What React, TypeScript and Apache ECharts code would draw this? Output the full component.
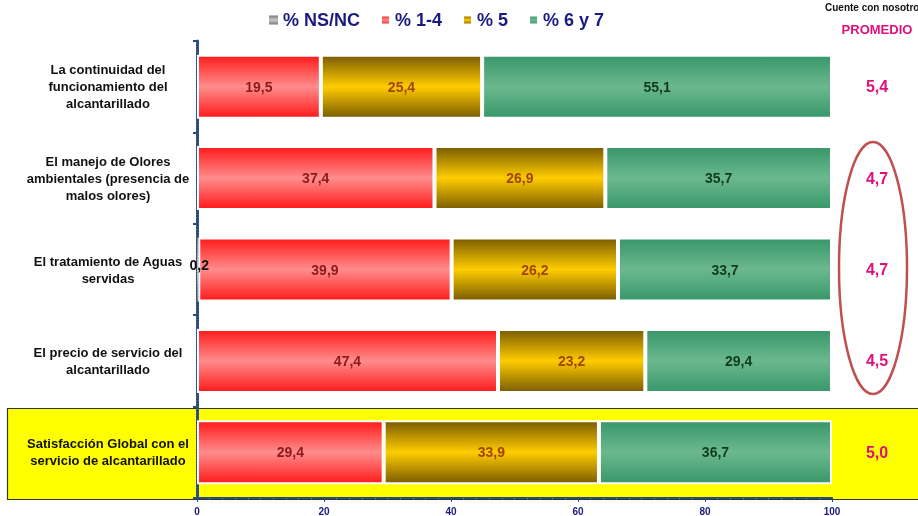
import React, { useEffect, useRef } from "react";
import * as echarts from "echarts";

const categories = [
  "La continuidad del\nfuncionamiento del\nalcantarillado",
  "El manejo de Olores\nambientales (presencia de\nmalos olores)",
  "El tratamiento de Aguas\nservidas",
  "El precio de servicio del\nalcantarillado",
  "Satisfacción Global con el\nservicio de alcantarillado",
];
const nsnc = [0, 0, 0.2, 0, 0];
const pct14 = [19.5, 37.4, 39.9, 47.4, 29.4];
const pct5 = [25.4, 26.9, 26.2, 23.2, 33.9];
const pct67 = [55.1, 35.7, 33.7, 29.4, 36.7];
const promedio = ["5,4", "4,7", "4,7", "4,5", "5,0"];
const seriesNames = ["% NS/NC", "% 1-4", "% 5", "% 6 y 7"];

const FONT = "Liberation Sans, Arial, sans-serif";

const grad = (edge: string, mid: string) =>
  new echarts.graphic.LinearGradient(0, 0, 0, 1, [
    { offset: 0, color: edge },
    { offset: 0.5, color: mid },
    { offset: 1, color: edge },
  ]);

const fmt = (v: number) => v.toFixed(1).replace(".", ",");

export default function App() {
  const ref = useRef<HTMLDivElement>(null);
  useEffect(() => {
    if (!ref.current) return;
    const chart = echarts.init(ref.current, null, { renderer: "svg" });
    const labelBase = {
      show: true,
      position: "inside" as const,
      fontFamily: FONT,
      fontWeight: "bold" as const,
      fontSize: 14,
      formatter: (p: any) => fmt(p.value),
    };
    const barCommon = {
      type: "bar" as const,
      stack: "total",
      barWidth: 64,
      emphasis: { disabled: true },
    };
    chart.setOption({
      animation: false,
      textStyle: { fontFamily: FONT },
      legend: {
        top: 6,
        left: 264,
        itemWidth: 9,
        itemHeight: 9,
        itemGap: 20,
        icon: "rect",
        textStyle: {
          fontFamily: FONT,
          fontWeight: "bold",
          fontSize: 18,
          color: "#1a1a80",
        },
        data: seriesNames,
      },
      grid: { left: 197, right: 86, top: 41, bottom: 18, containLabel: false },
      xAxis: {
        type: "value",
        min: 0,
        max: 100,
        interval: 20,
        axisLine: { show: true, lineStyle: { color: "#2a4a80", width: 2 } },
        axisTick: { show: true, length: 4, lineStyle: { color: "#2a4a80" } },
        minorTick: { show: true, splitNumber: 10, length: 2, lineStyle: { color: "#4a6a9a" } },
        splitLine: { show: false },
        axisLabel: {
          fontFamily: FONT,
          fontWeight: "bold",
          fontSize: 10,
          color: "#1a1a80",
          margin: 8,
        },
      },
      yAxis: [
        {
          type: "category",
          inverse: true,
          data: categories,
          axisLine: { show: true, lineStyle: { color: "#2a4a80", width: 3, type: [2, 1] } },
          axisTick: { show: true, length: 4, lineStyle: { color: "#2a4a80", width: 2 } },
          axisLabel: {
            fontFamily: FONT,
            fontWeight: "bold",
            fontSize: 13,
            lineHeight: 17,
            color: "#111111",
            align: "center",
            margin: 89,
          },
        },
        {
          type: "category",
          inverse: true,
          position: "right",
          data: promedio,
          axisLine: { show: false },
          axisTick: { show: false },
          axisLabel: {
            fontFamily: FONT,
            fontWeight: "bold",
            fontSize: 16,
            color: "#e0107a",
            align: "center",
            margin: 45,
          },
        },
      ],
      series: [
        {
          ...barCommon,
          name: seriesNames[0],
          data: nsnc,
          itemStyle: { color: grad("#7a7a7a", "#c8c8c8"), borderWidth: 0 },
          label: {
            ...labelBase,
            position: "left",
            distance: -12,
            offset: [0, -5],
            color: "#111111",
            formatter: (p: any) => (p.value > 0 ? fmt(p.value) : ""),
          },
        },
        {
          ...barCommon,
          name: seriesNames[1],
          data: pct14,
          itemStyle: { color: grad("#ff1a1a", "#ff8c8c"), borderColor: "#ffffff", borderWidth: 2 },
          label: { ...labelBase, color: "#8b1a1a" },
        },
        {
          ...barCommon,
          name: seriesNames[2],
          data: pct5,
          itemStyle: { color: grad("#7a5c00", "#ffcc00"), borderColor: "#ffffff", borderWidth: 2 },
          label: { ...labelBase, color: "#a04500" },
        },
        {
          ...barCommon,
          name: seriesNames[3],
          data: pct67,
          itemStyle: { color: grad("#38976a", "#6cb88e"), borderColor: "#ffffff", borderWidth: 2 },
          label: { ...labelBase, color: "#0d3d1d" },
        },
      ],
      graphic: [
        {
          type: "rect",
          z: -10,
          silent: true,
          shape: { x: 7.5, y: 408.5, width: 930, height: 91 },
          style: { fill: "#ffff00", stroke: "#333333", lineWidth: 1.2 },
        },
        {
          type: "ellipse",
          z: 10,
          silent: true,
          shape: { cx: 873, cy: 268, rx: 34, ry: 126 },
          style: { fill: "none", stroke: "#c0504d", lineWidth: 2.5 },
        },
        {
          type: "text",
          x: 825,
          y: 2,
          silent: true,
          style: {
            text: "Cuente con nosotros",
            fontFamily: FONT,
            fontWeight: "bold",
            fontSize: 10,
            fill: "#111111",
          },
        },
        {
          type: "text",
          x: 877,
          y: 23,
          silent: true,
          style: {
            text: "PROMEDIO",
            fontFamily: FONT,
            fontWeight: "bold",
            fontSize: 13,
            fill: "#e0107a",
            align: "center",
          },
        },
      ],
    });
    return () => chart.dispose();
  }, []);
  return (
    <div
      ref={ref}
      style={{ position: "fixed", left: 0, top: 0, width: 918, height: 516 }}
    />
  );
}
